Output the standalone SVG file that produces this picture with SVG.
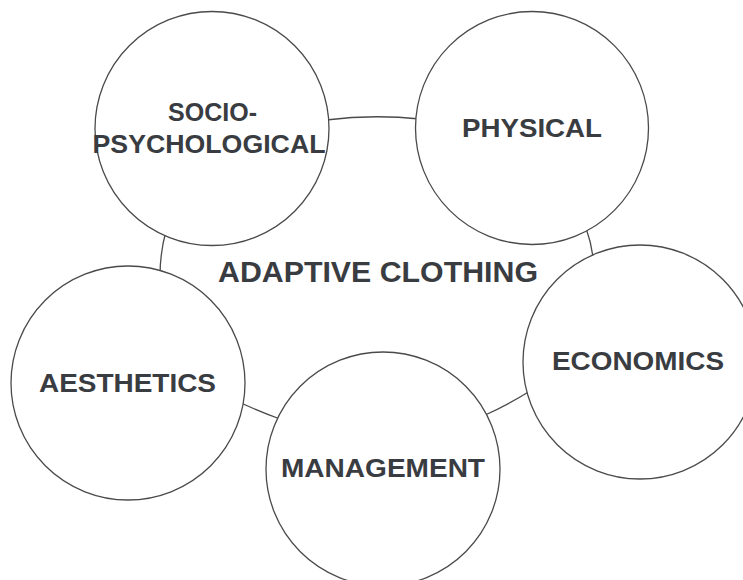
<svg xmlns="http://www.w3.org/2000/svg" width="743" height="580" viewBox="0 0 743 580">
  <style>
    .node circle { fill: #ffffff; stroke: #4a4a4a; stroke-width: 1.3; }
    .conn path { fill: none; stroke: #4a4a4a; stroke-width: 1.3; }
    text { font-family: "Liberation Sans", Arial, sans-serif; font-weight: bold; fill: #393c41; text-anchor: middle; }
    .lbl { font-size: 25px; }
    .title { font-size: 29px; }
  </style>
  <rect width="743" height="580" fill="#ffffff"/>
  <g id="connectors" class="conn">
    <path d="M326,120 Q373,114 420,119"/>
    <path d="M166,231 Q160,253 160,276"/>
    <path d="M586,228 Q591,242 593,257"/>
    <path d="M239,402 Q258,411 280,419"/>
    <path d="M483,416 Q506,406 530,391"/>
  </g>
  <g id="center">
    <text class="title" x="378" y="282" textLength="320" lengthAdjust="spacingAndGlyphs">ADAPTIVE CLOTHING</text>
  </g>
  <g id="node-socio" class="node">
    <circle cx="212" cy="128.5" r="117"/>
    <text class="lbl" x="212.5" y="121" textLength="89" lengthAdjust="spacingAndGlyphs">SOCIO-</text>
    <text class="lbl" x="209" y="153" textLength="233" lengthAdjust="spacingAndGlyphs">PSYCHOLOGICAL</text>
  </g>
  <g id="node-physical" class="node">
    <circle cx="532" cy="128" r="116.5"/>
    <text class="lbl" x="532" y="137" textLength="140" lengthAdjust="spacingAndGlyphs">PHYSICAL</text>
  </g>
  <g id="node-aesthetics" class="node">
    <circle cx="128" cy="383" r="117"/>
    <text class="lbl" x="127.5" y="392" textLength="177" lengthAdjust="spacingAndGlyphs">AESTHETICS</text>
  </g>
  <g id="node-economics" class="node">
    <circle cx="640" cy="362" r="117"/>
    <text class="lbl" x="638" y="370" textLength="172" lengthAdjust="spacingAndGlyphs">ECONOMICS</text>
  </g>
  <g id="node-management" class="node">
    <circle cx="383" cy="469" r="117"/>
    <text class="lbl" x="383" y="477" textLength="204" lengthAdjust="spacingAndGlyphs">MANAGEMENT</text>
  </g>
</svg>
